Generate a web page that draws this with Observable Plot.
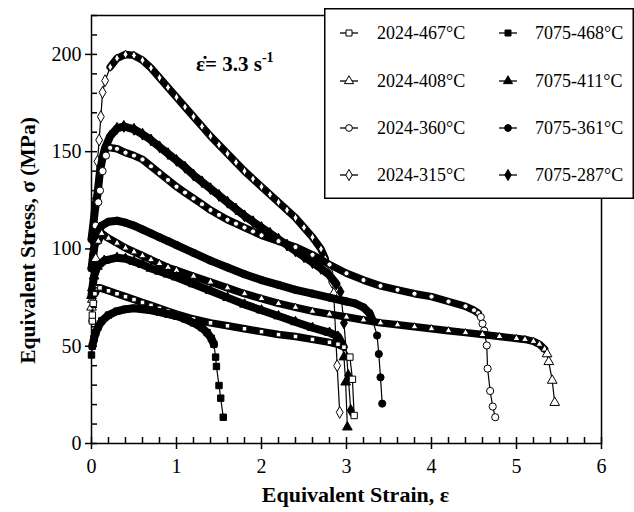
<!DOCTYPE html>
<html><head><meta charset="utf-8">
<script src="https://cdn.jsdelivr.net/npm/d3@7"></script>
<script src="https://cdn.jsdelivr.net/npm/@observablehq/plot@0.6"></script>
<style>
body{margin:0;background:#fff;}
#wrap{position:relative;width:634px;height:512px;font-family:"Liberation Serif",serif;}
#wrap > svg{position:absolute;left:0;top:0;}
#wrap > #legend{position:absolute;left:324px;top:8px;}
#rate{position:absolute;left:196px;top:54px;font-weight:bold;font-size:21px;line-height:21px;white-space:nowrap;}
#rate sup{font-size:14px;vertical-align:9px;line-height:0;}
</style></head><body><div id="wrap"></div>
<script>
// ---- ticks ----
const xTicks = [0, 1, 2, 3, 4, 5, 6];
const xMinor = d3.range(0, 6.001, 0.2);
const yTicks = [0, 50, 100, 150, 200];
const yMinor = d3.range(0, 220.001, 10);
const xLabel = "Equivalent Strain, ε";
const yLabel = "Equivalent Stress, σ (MPa)";

// ---- series (strain, stress MPa) ----
const s2024_467 = [[0.01,63],[0.01,66],[0.02,72],[0.04,77],[0.07,80],[0.1,80],[0.2,78.5],[0.3,77],[0.4,75.5],[0.5,74],[0.6,72.5],[0.7,71],[0.8,69.5],[0.9,68],[1.0,66.5],[1.2,64],[1.4,62],[1.6,60.5],[1.8,59],[2.0,57.5],[2.2,56],[2.4,55],[2.6,53.5],[2.8,52],[2.9,51],[2.97,49.5],[3.04,44.4],[3.07,33],[3.09,14.4]];
const s2024_408 = [[0.0,70],[0.01,74],[0.02,80],[0.05,95],[0.08,104],[0.12,108],[0.2,105.5],[0.3,103],[0.4,100.5],[0.5,98.5],[0.6,96.5],[0.7,94.5],[0.8,92.5],[0.9,90.5],[1.0,89],[1.2,86],[1.4,83],[1.6,80],[1.8,77],[2.0,74.5],[2.2,72],[2.4,70],[2.6,68],[2.8,66.5],[3.0,65],[3.2,63.5],[3.4,62],[3.6,61],[3.8,60],[4.0,59],[4.2,58],[4.4,57],[4.6,56],[4.8,55],[5.0,54],[5.1,53.5],[5.2,52.5],[5.27,51],[5.33,48.5],[5.36,46],[5.38,42],[5.42,32.4],[5.45,21]];
const s2024_360 = [[0.01,63],[0.01,77],[0.03,95],[0.05,112],[0.08,124],[0.1,130],[0.13,140],[0.17,148],[0.22,152],[0.3,151.5],[0.4,149.5],[0.5,148],[0.6,146],[0.7,142.5],[0.8,139],[0.9,135.5],[1.0,132],[1.1,129],[1.2,126],[1.3,123],[1.4,120],[1.5,117.5],[1.6,115],[1.7,113],[1.8,111],[1.9,109],[2.0,107],[2.2,104],[2.4,101],[2.6,97],[2.8,92],[3.0,87.5],[3.2,84],[3.4,81],[3.6,79],[3.8,77],[4.0,75.5],[4.2,73],[4.4,70.5],[4.5,68.5],[4.55,67],[4.58,65],[4.6,61.6],[4.62,58],[4.65,50.4],[4.66,38.5],[4.69,27],[4.72,19],[4.75,13.5]];
const s2024_315 = [[0.02,100],[0.04,125],[0.07,145],[0.09,156],[0.11,168],[0.13,180.5],[0.16,186.5],[0.22,193.5],[0.3,198],[0.4,200],[0.5,199.5],[0.6,197],[0.7,193],[0.8,188],[0.9,183],[1.0,178],[1.1,173],[1.2,168],[1.3,163],[1.4,158],[1.5,153.5],[1.6,149],[1.7,144.5],[1.8,140],[1.9,136],[2.0,132],[2.1,128],[2.2,124],[2.3,120],[2.4,116],[2.5,111],[2.6,106],[2.7,100],[2.75,95],[2.8,88],[2.83,83],[2.85,77],[2.89,40],[2.92,16]];
const s7075_468 = [[0.0,45.5],[0.01,50],[0.03,54],[0.05,57],[0.08,60],[0.12,63],[0.2,66],[0.3,68],[0.4,69],[0.5,69.5],[0.6,69],[0.7,68.5],[0.8,67.5],[0.9,66.5],[1.0,65.5],[1.1,64],[1.2,62],[1.3,59.5],[1.36,57],[1.41,54],[1.44,51],[1.46,44.4],[1.47,39.6],[1.5,29.8],[1.52,23.3],[1.55,13.5]];
const s7075_411 = [[0.0,76],[0.01,80],[0.03,86],[0.07,91],[0.15,94],[0.3,95.5],[0.4,95],[0.5,93.5],[0.6,92],[0.7,90],[0.8,88.5],[0.9,87],[1.0,85.5],[1.2,82],[1.4,78.5],[1.6,75],[1.8,71.5],[2.0,68.5],[2.2,65.5],[2.4,62.5],[2.6,59.5],[2.8,57],[2.9,55],[2.95,51],[2.97,44.4],[2.99,31.5],[3.01,8.4]];
const s7075_361 = [[0.0,90],[0.02,97],[0.04,103],[0.07,108],[0.12,112],[0.2,114],[0.3,114.5],[0.4,113.5],[0.5,112],[0.6,110],[0.7,108],[0.8,106],[0.9,104],[1.0,102],[1.2,98],[1.4,94],[1.6,90.5],[1.8,87],[2.0,84],[2.2,81.5],[2.4,79],[2.6,77],[2.8,75],[3.0,73],[3.1,72],[3.2,70],[3.27,67],[3.31,63],[3.36,55.5],[3.38,46],[3.4,34],[3.42,20.5]];
const s7075_287 = [[0.0,105],[0.02,112],[0.04,120],[0.07,128],[0.1,140],[0.13,147],[0.16,152],[0.22,158],[0.3,162],[0.38,163],[0.5,161.5],[0.6,159],[0.7,156],[0.8,152.5],[0.9,149],[1.0,145.5],[1.1,142],[1.2,138],[1.3,134.5],[1.4,131],[1.5,127.5],[1.6,124],[1.7,120.5],[1.8,117],[1.9,114],[2.0,111],[2.1,108],[2.2,105],[2.3,102],[2.4,99],[2.5,96],[2.6,93],[2.7,90],[2.8,86.5],[2.88,82],[2.93,78],[2.97,62],[3.02,35],[3.05,17]];

const names = ["2024-467°C","2024-408°C","2024-360°C","2024-315°C","7075-468°C","7075-411°C","7075-361°C","7075-287°C"];
const dataList = [s2024_467, s2024_408, s2024_360, s2024_315, s7075_468, s7075_411, s7075_361, s7075_287];
const symbols = ["square","triangle","circle","diamond","square","triangle","circle","diamond"];
const filled = [false,false,false,false,true,true,true,true];
// strain range of the dense (continuous) part of each curve
const bandRange = [[0.04,2.97],[0.08,5.33],[0.22,4.55],[0.22,2.75],[0.01,1.44],[0.0,2.95],[0.0,3.31],[0.0,2.88]];

const X = d => d[0], Y = d => d[1];
const drawOrder = [3,7,2,6,1,5,0,4];
const marks = [];
for (const i of drawOrder) {
  const pts = dataList[i];
  const [b0, b1] = bandRange[i];
  const inBand = d => d[0] >= b0 && d[0] <= b1;
  const band = pts.filter(inBand);
  const loose = pts.filter(d => !inBand(d));
  marks.push(Plot.line(pts, {x: X, y: Y, stroke: "black", strokeWidth: 1.2}));
  marks.push(Plot.line(band, {x: X, y: Y, stroke: "black", strokeWidth: filled[i] ? 8 : 7.5, strokeLinejoin: "round", strokeLinecap: "round"}));
  marks.push(Plot.dot(band, {x: X, y: Y, symbol: symbols[i], r: filled[i] ? 3.6 : 2.6, fill: filled[i] ? "black" : "white", stroke: "black", strokeWidth: 1}));
  marks.push(Plot.dot(loose, {x: X, y: Y, symbol: symbols[i], r: 3.6, fill: filled[i] ? "black" : "white", stroke: "black", strokeWidth: 1}));
}

const plot = Plot.plot({
  width: 634, height: 512,
  marginLeft: 91, marginRight: 33, marginTop: 15, marginBottom: 69,
  style: {fontFamily: "'Liberation Serif', serif", fontSize: "20px", background: "white", color: "black"},
  x: {domain: [0, 6]},
  y: {domain: [0, 220]},
  marks: [
    Plot.frame({stroke: "black", strokeWidth: 1.5}),
    ...marks,
    Plot.axisX(xTicks, {tickSize: 6, tickPadding: 9, strokeWidth: 1.5, label: null}),
    Plot.axisX(xMinor, {tickSize: -6, tickFormat: () => "", strokeWidth: 1.5, label: null}),
    Plot.axisY(yTicks, {tickSize: 6, tickPadding: 4, strokeWidth: 1.5, label: null}),
    Plot.axisY(yMinor, {tickSize: -6, tickFormat: () => "", strokeWidth: 1.5, label: null}),
    Plot.text([xLabel], {text: d => d, frameAnchor: "bottom", textAnchor: "middle", dx: 9, dy: 58, fontWeight: "bold", fontSize: 22}),
    Plot.text([yLabel], {text: d => d, frameAnchor: "left", textAnchor: "middle", dx: -63, dy: 11, rotate: -90, fontWeight: "bold", fontSize: 21.5})
  ]
});
const wrap = document.getElementById("wrap");
wrap.appendChild(plot);

// rate annotation
const rate = document.createElement("div");
rate.id = "rate";
rate.innerHTML = "ε\u0307= 3.3 s<sup>-1</sup>";
wrap.appendChild(rate);

// legend
const lg = d3.select(wrap).append("svg").attr("id", "legend").attr("width", 310).attr("height", 192);
lg.append("rect").attr("x", 0.75).attr("y", 0.75).attr("width", 308.5).attr("height", 189.5)
  .attr("fill", "white").attr("stroke", "black").attr("stroke-width", 1.5);
const symMap = {square: d3.symbolSquare, triangle: d3.symbolTriangle, circle: d3.symbolCircle, diamond: d3.symbolDiamond};
const rowY = [25, 73, 120, 167];
names.forEach((nm, i) => {
  const col = i < 4 ? 0 : 1, row = i % 4;
  const cx = col === 0 ? 25 : 184, tx = col === 0 ? 53 : 211, cy = rowY[row];
  const g = lg.append("g");
  g.append("line").attr("x1", cx - 9).attr("x2", cx + 9).attr("y1", cy).attr("y2", cy).attr("stroke", "black").attr("stroke-width", 1.3);
  g.append("path").attr("d", d3.symbol(symMap[symbols[i]], 36)()).attr("transform", `translate(${cx},${cy})`)
    .attr("fill", filled[i] ? "black" : "white").attr("stroke", "black").attr("stroke-width", 1);
  g.append("text").attr("x", tx).attr("y", cy + 6).attr("font-size", 18).attr("font-family", "'Liberation Serif', serif").text(nm);
});
</script></body></html>
